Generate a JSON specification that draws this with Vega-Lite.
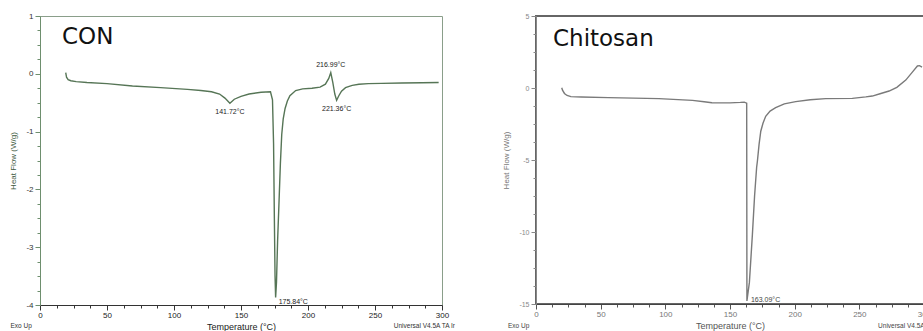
{
  "$schema": "https://vega.github.io/schema/vega-lite/v6.json",
  "background": "white",
  "padding": {"left": 9, "top": 11, "right": 0, "bottom": 0},
  "config": {"font": "Liberation Sans", "title": {"fontWeight": "normal"}},
  "bounds": "flush",
  "spacing": 94,
  "datasets": {
    "con": [
      {"T": 19.2, "hf": 0.02}, {"T": 19.8, "hf": -0.06}, {"T": 21, "hf": -0.1}, {"T": 23, "hf": -0.12},
      {"T": 27, "hf": -0.135}, {"T": 35, "hf": -0.15}, {"T": 50, "hf": -0.17}, {"T": 69, "hf": -0.21},
      {"T": 90, "hf": -0.24}, {"T": 110, "hf": -0.27}, {"T": 120, "hf": -0.29}, {"T": 128, "hf": -0.31},
      {"T": 134, "hf": -0.35}, {"T": 138, "hf": -0.42}, {"T": 141.72, "hf": -0.51}, {"T": 145, "hf": -0.44},
      {"T": 150, "hf": -0.39}, {"T": 156, "hf": -0.35}, {"T": 165, "hf": -0.32}, {"T": 172, "hf": -0.31},
      {"T": 173.5, "hf": -0.45}, {"T": 174.3, "hf": -1.2}, {"T": 174.9, "hf": -2.5}, {"T": 175.4, "hf": -3.5},
      {"T": 175.84, "hf": -3.87}, {"T": 176.5, "hf": -3.6}, {"T": 177.3, "hf": -2.9}, {"T": 178.4, "hf": -2.2},
      {"T": 179.4, "hf": -1.55}, {"T": 180.4, "hf": -1.05}, {"T": 181.5, "hf": -0.78}, {"T": 182.9, "hf": -0.6},
      {"T": 184.6, "hf": -0.47}, {"T": 186.5, "hf": -0.38}, {"T": 190.8, "hf": -0.29}, {"T": 196, "hf": -0.26},
      {"T": 203, "hf": -0.25}, {"T": 209, "hf": -0.23}, {"T": 213, "hf": -0.18}, {"T": 215.5, "hf": -0.08},
      {"T": 216.99, "hf": 0.02}, {"T": 218.5, "hf": -0.15}, {"T": 220, "hf": -0.35}, {"T": 221.36, "hf": -0.46},
      {"T": 223, "hf": -0.38}, {"T": 225, "hf": -0.3}, {"T": 228, "hf": -0.24}, {"T": 233, "hf": -0.2},
      {"T": 238, "hf": -0.18}, {"T": 245, "hf": -0.17}, {"T": 255, "hf": -0.165}, {"T": 270, "hf": -0.16},
      {"T": 285, "hf": -0.155}, {"T": 297.5, "hf": -0.15}
    ],
    "con_peaks": [
      {"T": 141.72, "hf": -0.51, "label": "141.72°C"},
      {"T": 216.99, "hf": 0.02, "label": "216.99°C"},
      {"T": 221.36, "hf": -0.46, "label": "221.36°C"},
      {"T": 175.84, "hf": -3.87, "label": "175.84°C"}
    ],
    "con_notes": [
      {"T": -22, "hf": -4.36, "label": "Exo Up"},
      {"T": 264, "hf": -4.36, "label": "Universal V4.5A TA Ir"}
    ],
    "chi": [
      {"T": 19.9, "hf": 0.02}, {"T": 20.5, "hf": -0.15}, {"T": 22, "hf": -0.38}, {"T": 24, "hf": -0.52},
      {"T": 27, "hf": -0.6}, {"T": 35, "hf": -0.63}, {"T": 56, "hf": -0.67}, {"T": 95, "hf": -0.74},
      {"T": 121, "hf": -0.86}, {"T": 130, "hf": -0.95}, {"T": 136, "hf": -1.02}, {"T": 150, "hf": -1.03},
      {"T": 158, "hf": -1.0}, {"T": 161, "hf": -0.98}, {"T": 162.9, "hf": -1.05}, {"T": 163.09, "hf": -14.79},
      {"T": 165, "hf": -13.5}, {"T": 167.3, "hf": -10.2}, {"T": 169, "hf": -7.5}, {"T": 170.6, "hf": -5.5},
      {"T": 171.2, "hf": -5.07}, {"T": 172.5, "hf": -3.9}, {"T": 173.8, "hf": -3.0}, {"T": 175.5, "hf": -2.45},
      {"T": 177.6, "hf": -1.97}, {"T": 181, "hf": -1.6}, {"T": 185.3, "hf": -1.37}, {"T": 192, "hf": -1.1},
      {"T": 200.8, "hf": -0.95}, {"T": 212, "hf": -0.82}, {"T": 224, "hf": -0.74}, {"T": 244.6, "hf": -0.72},
      {"T": 255, "hf": -0.62}, {"T": 260, "hf": -0.56}, {"T": 266, "hf": -0.4}, {"T": 273, "hf": -0.21},
      {"T": 279, "hf": 0.05}, {"T": 285.9, "hf": 0.55}, {"T": 291, "hf": 1.1}, {"T": 294.9, "hf": 1.53},
      {"T": 296.5, "hf": 1.55}, {"T": 298.5, "hf": 1.45}
    ],
    "chi_peaks": [
      {"T": 163.09, "hf": -14.79, "label": "163.09°C"}
    ],
    "chi_notes": [
      {"T": -21.7, "hf": -16.53, "label": "Exo Up"},
      {"T": 264.5, "hf": -16.53, "label": "Universal V4.5A"}
    ]
  },
  "hconcat": [
    {
      "width": 402,
      "height": 289,
      "title": {"text": "CON", "anchor": "start", "frame": "group", "offset": -37, "dx": 22, "fontSize": 23, "font": "DejaVu Sans", "fontWeight": "normal", "color": "#111"},
      "view": {"stroke": "#8a9e8a", "strokeWidth": 1},
      "encoding": {
        "x": {"field": "T", "type": "quantitative", "scale": {"domain": [0, 300], "nice": false, "zero": false},
          "axis": {"title": "Temperature (°C)", "values": [0,12.5,25,37.5,50,62.5,75,87.5,100,112.5,125,137.5,150,162.5,175,187.5,200,212.5,225,237.5,250,262.5,275,287.5,300],
            "labelExpr": "datum.value % 50 == 0 ? '' + datum.value : ''",
            "tickSize": {"condition": {"test": "datum.value % 50 == 0", "value": 5}, "value": 3},
            "grid": false, "domainColor": "#333", "tickColor": "#333", "labelColor": "#222", "labelFontSize": 8,
            "labelPadding": 1, "labelOverlap": false, "labelFlush": false,
            "titleFontSize": 9, "titleFontWeight": "normal", "titleColor": "#222", "titlePadding": 3}},
        "y": {"field": "hf", "type": "quantitative", "scale": {"domain": [-4, 1], "nice": false, "zero": false},
          "axis": {"title": "Heat Flow (W/g)", "values": [-4,-3.75,-3.5,-3.25,-3,-2.75,-2.5,-2.25,-2,-1.75,-1.5,-1.25,-1,-0.75,-0.5,-0.25,0,0.25,0.5,0.75,1],
            "labelExpr": "datum.value % 1 == 0 ? '' + datum.value : ''",
            "tickSize": {"condition": {"test": "datum.value % 1 == 0", "value": 5}, "value": 3},
            "grid": false, "domainColor": "#6e8f6e", "tickColor": "#6e8f6e", "labelColor": "#333", "labelFontSize": 8,
            "labelPadding": 2, "labelOverlap": false, "labelFlush": false,
            "titleFontSize": 8, "titleFontWeight": "normal", "titleColor": "#3d5a3d", "titlePadding": 8}}
      },
      "layer": [
        {"data": {"name": "con"}, "mark": {"type": "line", "color": "#567556", "strokeWidth": 1.4, "clip": true}},
        {"data": {"name": "con_peaks"}, "transform": [{"filter": "datum.T == 141.72 || datum.T == 221.36"}],
          "mark": {"type": "text", "fontSize": 7, "color": "#222", "baseline": "top", "dy": 5},
          "encoding": {"text": {"field": "label"}}},
        {"data": {"name": "con_peaks"}, "transform": [{"filter": "datum.T == 216.99"}],
          "mark": {"type": "text", "fontSize": 7, "color": "#222", "baseline": "bottom", "dy": -5},
          "encoding": {"text": {"field": "label"}}},
        {"data": {"name": "con_peaks"}, "transform": [{"filter": "datum.T == 175.84"}],
          "mark": {"type": "text", "fontSize": 7, "color": "#222", "align": "left", "baseline": "middle", "dx": 3, "dy": 5},
          "encoding": {"text": {"field": "label"}}},
        {"data": {"name": "con_notes"},
          "mark": {"type": "text", "fontSize": 6.5, "color": "#333", "align": "left", "baseline": "middle"},
          "encoding": {"text": {"field": "label"}}}
      ]
    },
    {
      "width": 388,
      "height": 288,
      "title": {"text": "Chitosan", "anchor": "start", "frame": "group", "offset": -39, "dx": 17, "fontSize": 23, "font": "DejaVu Sans", "fontWeight": "normal", "color": "#111"},
      "view": {"stroke": "#666", "strokeWidth": 2},
      "encoding": {
        "x": {"field": "T", "type": "quantitative", "scale": {"domain": [0, 300], "nice": false, "zero": false},
          "axis": {"title": "Temperature (°C)", "values": [0,12.5,25,37.5,50,62.5,75,87.5,100,112.5,125,137.5,150,162.5,175,187.5,200,212.5,225,237.5,250,262.5,275,287.5,300],
            "labelExpr": "datum.value % 50 == 0 ? '' + datum.value : ''",
            "tickSize": {"condition": {"test": "datum.value % 50 == 0", "value": 5}, "value": 3},
            "grid": false, "domainColor": "#444", "tickColor": "#555", "labelColor": "#777", "labelFontSize": 8,
            "labelPadding": 1, "labelOverlap": false, "labelFlush": false,
            "titleFontSize": 9, "titleFontWeight": "normal", "titleColor": "#555", "titlePadding": 3}},
        "y": {"field": "hf", "type": "quantitative", "scale": {"domain": [-15, 5], "nice": false, "zero": false},
          "axis": {"title": "Heat Flow (W/g)", "values": [-15,-13.75,-12.5,-11.25,-10,-8.75,-7.5,-6.25,-5,-3.75,-2.5,-1.25,0,1.25,2.5,3.75,5],
            "labelExpr": "datum.value % 5 == 0 ? '' + datum.value : ''",
            "tickSize": {"condition": {"test": "datum.value % 5 == 0", "value": 5}, "value": 3},
            "grid": false, "domainColor": "#888", "tickColor": "#888", "labelColor": "#888", "labelFontSize": 7,
            "labelPadding": 2, "labelOverlap": false, "labelFlush": false,
            "titleFontSize": 8, "titleFontWeight": "normal", "titleColor": "#777", "titlePadding": 8}}
      },
      "layer": [
        {"data": {"name": "chi"}, "mark": {"type": "line", "color": "#7a7a7a", "strokeWidth": 1.4, "clip": true}},
        {"data": {"name": "chi_peaks"},
          "mark": {"type": "text", "fontSize": 7, "color": "#444", "align": "left", "baseline": "middle", "dx": 4, "dy": -1},
          "encoding": {"text": {"field": "label"}}},
        {"data": {"name": "chi_notes"},
          "mark": {"type": "text", "fontSize": 6.5, "color": "#444", "align": "left", "baseline": "middle"},
          "encoding": {"text": {"field": "label"}}}
      ]
    }
  ]
}
